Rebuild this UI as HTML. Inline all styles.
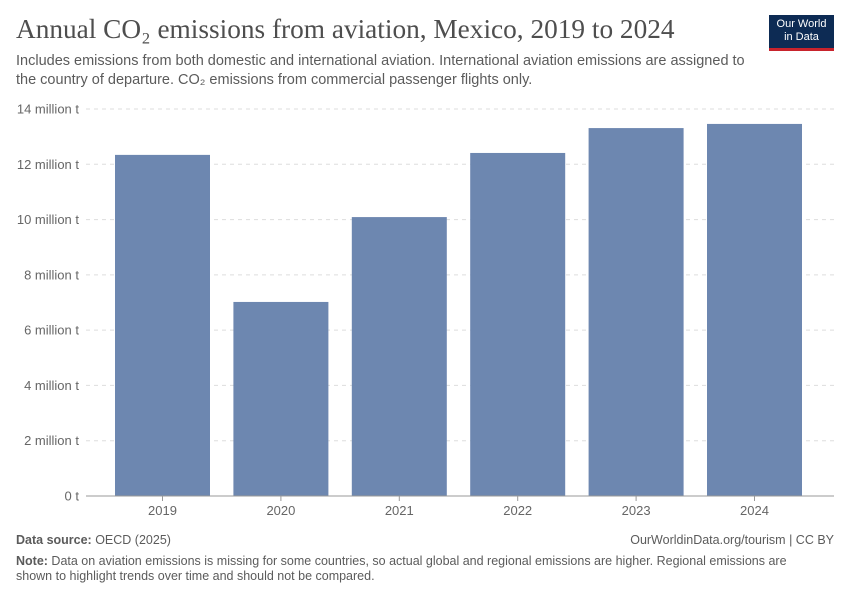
<!DOCTYPE html>
<html><head><meta charset="utf-8"><style>
body{margin:0;width:850px;height:600px;background:#fff;font-family:"Liberation Sans",sans-serif;overflow:hidden;position:relative}
.t{position:absolute;margin:0}
</style></head><body>
<div class="t" style="left:16px;top:14px;font-family:'Liberation Serif',serif;font-size:27.3px;color:#4e4e4e">Annual CO₂ emissions from aviation, Mexico, 2019 to 2024</div>
<div class="t" style="left:16px;top:52px;font-size:14.5px;line-height:19px;color:#5b5b5b;width:735px">Includes emissions from both domestic and international aviation. International aviation emissions are assigned to the country of departure. CO₂ emissions from commercial passenger flights only.</div>
<div class="t" style="left:769px;top:15px;width:65px;height:36px;background:#0d2b54;border-bottom:3px solid #c8232c;color:#fff;font-size:11px;line-height:13px;text-align:center;padding-top:3px;box-sizing:border-box">Our World<br>in Data</div>
<svg id="c" class="t" style="left:0;top:0" width="850" height="600"></svg>
<div class="t" style="left:16px;top:533px;font-size:12.5px;color:#5b5b5b"><b>Data source:</b> OECD (2025)</div>
<div class="t" style="right:16px;top:533px;font-size:12.5px;color:#5b5b5b">OurWorldinData.org/tourism | CC BY</div>
<div class="t" style="left:16px;top:554px;font-size:12.5px;line-height:15px;color:#5b5b5b;width:800px"><b>Note:</b> Data on aviation emissions is missing for some countries, so actual global and regional emissions are higher. Regional emissions are shown to highlight trends over time and should not be compared.</div>
<script>
const years=["2019","2020","2021","2022","2023","2024"];
const values=[12.34,7.02,10.09,12.41,13.31,13.46];
const ticks=[0,2,4,6,8,10,12,14];
const tickLabels=["0 t","2 million t","4 million t","6 million t","8 million t","10 million t","12 million t","14 million t"];
const svg=document.getElementById('c');const NS='http://www.w3.org/2000/svg';
const x0=86,x1=834,y0=496,y1=109,maxV=14;
const y=v=>y0-(v/maxV)*(y0-y1);
const firstC=162.5,lastC=754.5;
const band=(lastC-firstC)/(years.length-1),bw=95;
function mk(t,a){const e=document.createElementNS(NS,t);for(const k in a)e.setAttribute(k,a[k]);svg.appendChild(e);return e;}
ticks.forEach((v,i)=>{
 if(v>0){const l=mk('line',{x1:x0,x2:x1,y1:y(v),y2:y(v),stroke:'#ddd','stroke-dasharray':'4,4'});
 
 }
 const t=mk('text',{x:79,y:y(v)+4.5,'text-anchor':'end','font-size':13,fill:'#666','font-family':'Liberation Sans'});t.textContent=tickLabels[i];
 
 
});
years.forEach((yr,i)=>{
 const cx=firstC+band*i;
 const r=mk('rect',{x:cx-bw/2,y:y(values[i]),width:bw,height:y0-y(values[i]),fill:'#6d87b0'});
 
 
 mk('line',{x1:cx,x2:cx,y1:y0,y2:y0+5,stroke:'#999'});
 const t=mk('text',{x:cx,y:y0+19,'text-anchor':'middle','font-size':13,fill:'#666','font-family':'Liberation Sans'});t.textContent=yr;
 
 
});
const ax=mk('line',{x1:x0,x2:x1,y1:y0,y2:y0,stroke:'#999'});


</script>
</body></html>
